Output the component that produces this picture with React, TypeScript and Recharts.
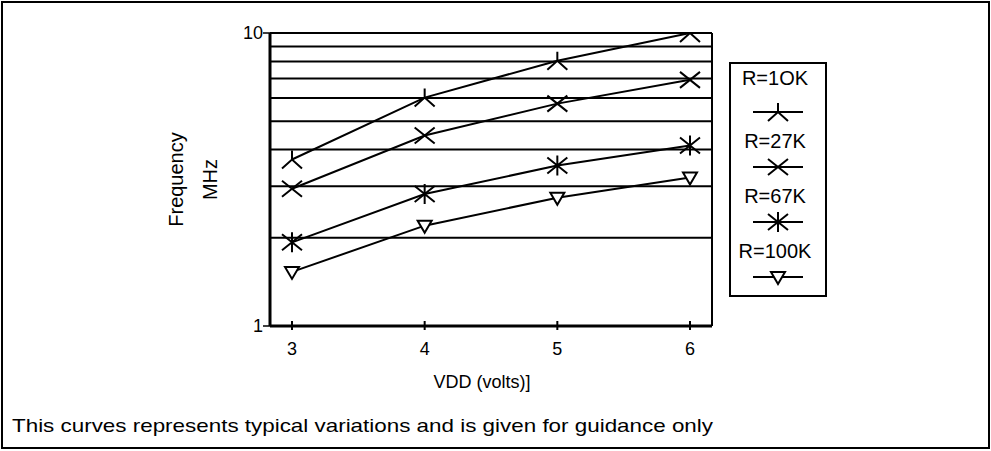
import React from "react";
import { LineChart, Line, XAxis, YAxis, CartesianGrid, Legend } from "recharts";

const vdd = [3, 4, 5, 6];
const r10k = [3.7, 6.02, 8.04, 10.0];
const r27k = [2.94, 4.47, 5.74, 6.92];
const r67k = [1.93, 2.82, 3.53, 4.13];
const r100k = [1.53, 2.2, 2.74, 3.21];

const gridTicks = [1, 2, 3, 4, 5, 6, 7, 8, 9, 10];
const labelledTicks = [1, 10];

const seriesNames = { r10k: "R=1OK", r27k: "R=27K", r67k: "R=67K", r100k: "R=100K" };
const seriesOrder = Object.keys(seriesNames);
const markerOf: Record<string, string> = { r10k: "chev", r27k: "x", r67k: "star", r100k: "tri" };

const rows = vdd.map((v, i) => ({ v, r10k: r10k[i], r27k: r27k[i], r67k: r67k[i], r100k: r100k[i] }));

const FONT = '"Liberation Sans", Arial, sans-serif';

function markerPath(kind: string, cx: number, cy: number) {
  switch (kind) {
    case "chev":
      return `M${cx - 10},${cy + 9} L${cx},${cy} L${cx + 10},${cy + 9} M${cx},${cy} L${cx},${cy - 9}`;
    case "x":
      return `M${cx - 10},${cy - 8} L${cx + 10},${cy + 8} M${cx - 10},${cy + 8} L${cx + 10},${cy - 8}`;
    case "star":
      return `M${cx - 10},${cy - 8} L${cx + 10},${cy + 8} M${cx - 10},${cy + 8} L${cx + 10},${cy - 8} M${cx},${cy - 10} L${cx},${cy + 10}`;
    default:
      return `M${cx - 7},${cy - 5} L${cx + 7},${cy - 5} L${cx},${cy + 7} Z`;
  }
}

const makeDot = (kind: string) => (props: any) => {
  const { cx, cy, index } = props;
  if (cx == null || cy == null) return <g key={index} />;
  return <path key={index} d={markerPath(kind, cx, cy)} stroke="#000" strokeWidth={2} fill="#fff" />;
};

const XTick = (props: any) => {
  const { x, y, payload } = props;
  return (
    <g>
      <line x1={x} x2={x} y1={y - 5} y2={y + 4} stroke="#000" strokeWidth={2} />
      <text x={x} y={y + 29} textAnchor="middle" fontSize={18} fill="#000">
        {payload.value}
      </text>
    </g>
  );
};

const YTick = (props: any) => {
  const { x, y, payload } = props;
  if (!labelledTicks.includes(payload.value)) return <g />;
  return (
    <g>
      <line x1={x - 7} x2={x} y1={y} y2={y} stroke="#000" strokeWidth={1.5} />
      <text x={x - 7} y={y + 6} textAnchor="end" fontSize={18} fill="#000">
        {payload.value}
      </text>
    </g>
  );
};

const YTitle = (props: any) => {
  const { viewBox } = props;
  const cy = viewBox.y + viewBox.height / 2;
  const x1 = viewBox.x - 54;
  const x2 = viewBox.x - 20;
  return (
    <g fontSize={20} fill="#000">
      <text x={x1} y={cy} textAnchor="middle" dominantBaseline="central" transform={`rotate(-90 ${x1} ${cy})`}>
        Frequency
      </text>
      <text x={x2} y={cy} textAnchor="middle" dominantBaseline="central" transform={`rotate(-90 ${x2} ${cy})`}>
        MHz
      </text>
    </g>
  );
};

const XTitle = (props: any) => {
  const { viewBox } = props;
  return (
    <text x={viewBox.x + viewBox.width / 2 - 9} y={viewBox.y + 62} textAnchor="middle" fontSize={18} fill="#000">
      VDD (volts)]
    </text>
  );
};

const LegendBox = (props: any) => {
  const payload = [...(props.payload || [])].sort(
    (a: any, b: any) => seriesOrder.indexOf(a.dataKey) - seriesOrder.indexOf(b.dataKey)
  );
  return (
    <div
      style={{
        boxSizing: "border-box",
        width: 98,
        height: 235,
        border: "2px solid #000",
        background: "#fff",
        fontFamily: FONT,
        fontSize: 20,
        color: "#000",
      }}
    >
      {payload.map((entry: any, i: number) => (
        <div key={entry.dataKey} style={{ textAlign: "center" }}>
          <div style={{ height: 22, lineHeight: "22px", marginTop: i === 0 ? 3 : 6, paddingRight: 6 }}>{entry.value}</div>
          <svg width={94} height={24} style={{ display: "block", marginTop: i === 0 ? 11 : 3 }}>
            <line x1={22} x2={72} y1={12} y2={12} stroke="#000" strokeWidth={2} />
            <path d={markerPath(markerOf[entry.dataKey], 47, 12)} stroke="#000" strokeWidth={2} fill="#fff" />
          </svg>
        </div>
      ))}
    </div>
  );
};

export default function App() {
  return (
    <div style={{ position: "absolute", left: 0, top: 0, width: 991, height: 451, background: "#fff", fontFamily: FONT }}>
      <div
        style={{
          position: "absolute",
          left: 1,
          top: 1,
          width: 989,
          height: 448,
          boxSizing: "border-box",
          border: "2px solid #000",
        }}
      />
      <LineChart width={991} height={451} data={rows} margin={{ top: 33, right: 278, bottom: 85, left: 230 }}>
        <CartesianGrid horizontal vertical={false} stroke="#000" strokeWidth={2} />
        <XAxis
          dataKey="v"
          type="number"
          domain={[3, 6]}
          ticks={vdd}
          padding={{ left: 22, right: 22 }}
          height={40}
          tickSize={0}
          tickMargin={0}
          tickLine={false}
          tick={<XTick />}
          axisLine={{ stroke: "#000", strokeWidth: 3 }}
          label={<XTitle />}
        />
        <YAxis
          type="number"
          scale="log"
          domain={[1, 10]}
          ticks={gridTicks}
          interval={0}
          allowDataOverflow
          width={40}
          tickSize={0}
          tickMargin={0}
          tickLine={false}
          tick={<YTick />}
          axisLine={{ stroke: "#000", strokeWidth: 3 }}
          label={<YTitle />}
        />
        <YAxis
          yAxisId="right"
          orientation="right"
          type="number"
          domain={[0, 1]}
          width={1}
          tick={false}
          tickLine={false}
          axisLine={{ stroke: "#000", strokeWidth: 2 }}
        />
        <Legend
          layout="vertical"
          align="center"
          verticalAlign="middle"
          content={<LegendBox />}
          wrapperStyle={{ left: 729, top: 62, width: 98, height: 235 }}
        />
        {seriesOrder.map((k) => (
          <Line
            key={k}
            dataKey={k}
            name={(seriesNames as any)[k]}
            type="linear"
            stroke="#000"
            strokeWidth={2}
            dot={makeDot(markerOf[k])}
            activeDot={false}
            isAnimationActive={false}
          />
        ))}
      </LineChart>
      <svg width={991} height={451} style={{ position: "absolute", left: 0, top: 0, pointerEvents: "none" }}>
        <text x={12} y={432} fontSize={19} fill="#000" textLength={701} lengthAdjust="spacingAndGlyphs">
          This curves represents typical variations and is given for guidance only
        </text>
      </svg>
    </div>
  );
}
